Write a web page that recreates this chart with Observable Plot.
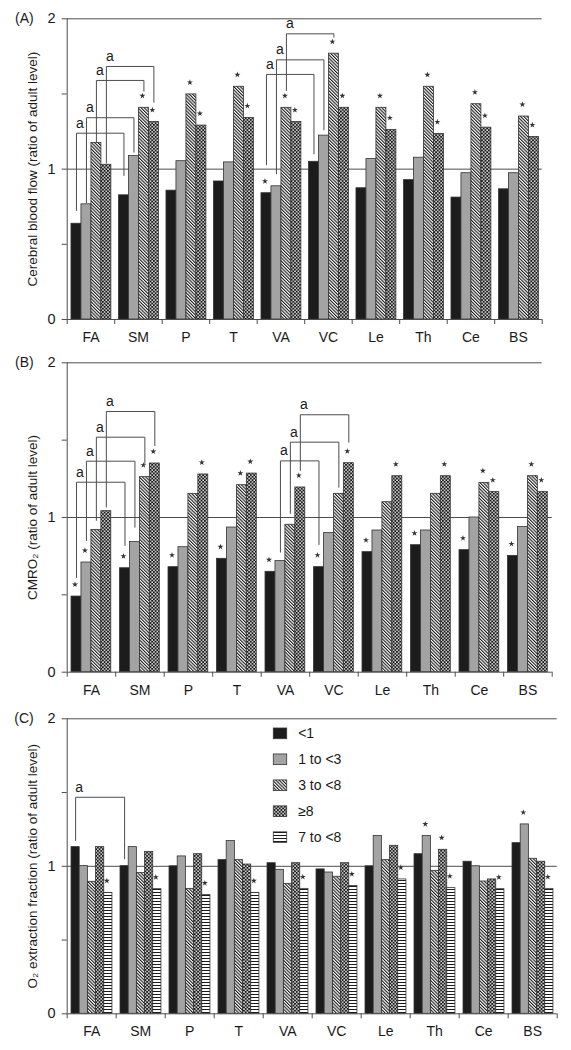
<!DOCTYPE html>
<html><head><meta charset="utf-8">
<script src="https://cdn.jsdelivr.net/npm/d3@7"></script>
<script src="https://cdn.jsdelivr.net/npm/@observablehq/plot@0.6"></script>
<style>
body{margin:0;background:#fff;font-family:"Liberation Sans",Arial,sans-serif;}
#charts svg{display:block;}
</style></head><body>
<svg width="0" height="0" style="position:absolute">
<defs>
<pattern id="hatch" patternUnits="userSpaceOnUse" width="2.3" height="2.3" patternTransform="rotate(-45)">
<rect width="2.3" height="2.3" fill="#fff"/><rect width="1.1" height="2.3" fill="#1a1a1a"/>
</pattern>
<pattern id="check" patternUnits="userSpaceOnUse" width="3.4" height="3.4">
<rect width="3.4" height="3.4" fill="#1a1a1a"/>
<rect x="0.2" y="0.2" width="1.45" height="1.45" fill="#fff"/>
<rect x="1.9" y="1.9" width="1.45" height="1.45" fill="#fff"/>
</pattern>
<pattern id="hlines" patternUnits="userSpaceOnUse" width="4" height="3">
<rect width="4" height="3" fill="#fff"/><rect y="0" width="4" height="1" fill="#1a1a1a"/>
</pattern>
</defs></svg>
<div id="charts"></div>
<script>
const regions = ["FA","SM","P","T","VA","VC","Le","Th","Ce","BS"];
const groups = ["<1","1 to <3","3 to <8","≥8","7 to <8"];
const groupFills = ["#1c1c1c","#a3a3a3","url(#hatch)","url(#check)","url(#hlines)"];

// (A) Cerebral blood flow
const cbfLt1   = [0.637,0.826,0.857,0.918,0.840,1.049,0.873,0.927,0.811,0.866];
const cbf1to3  = [0.766,1.087,1.053,1.045,0.886,1.223,1.067,1.076,0.973,0.973];
const cbf3to8  = [1.174,1.408,1.497,1.548,1.408,1.768,1.408,1.548,1.432,1.350];
const cbfGe8   = [1.029,1.314,1.290,1.341,1.314,1.408,1.261,1.234,1.276,1.214];
const cbfStars = [["VA"], [], ["SM","P","T","VA","VC","Le","Th","Ce","BS"], ["SM","P","T","VA","VC","Le","Th","Ce","BS"]];
const cbfBrackets = [
  ["FA",0,"SM",0,1.239,0.725,0.958],
  ["FA",1,"SM",1,1.342,0.775,1.113],
  ["FA",2,"SM",2,1.590,1.180,1.518],
  ["FA",3,"SM",3,1.683,1.040,1.445],
  ["VA",0,"VC",0,1.630,1.029,1.102],
  ["VA",1,"VC",1,1.727,0.969,1.261],
  ["VA",2,"VC",2,1.900,1.523,1.878]
];

// (B) CMRO2
const cmrLt1   = [0.489,0.672,0.679,0.733,0.649,0.679,0.776,0.821,0.789,0.752];
const cmr1to3  = [0.709,0.841,0.808,0.935,0.718,0.899,0.916,0.916,1.000,0.938];
const cmr3to8  = [0.920,1.261,1.153,1.209,0.953,1.153,1.099,1.153,1.224,1.267];
const cmrGe8   = [1.041,1.349,1.278,1.284,1.194,1.351,1.267,1.267,1.164,1.164];
const cmrStars = [regions.slice(), ["FA"], ["SM","T","Ce","BS"], ["SM","P","T","VA","VC","Le","Th","Ce","BS"]];
const cmrBrackets = [
  ["FA",0,"SM",0,1.228,0.612,0.819],
  ["FA",1,"SM",1,1.364,0.851,0.937],
  ["FA",2,"SM",2,1.519,0.981,1.349],
  ["FA",3,"SM",3,1.685,1.067,1.465],
  ["VA",1,"VC",0,1.366,0.776,0.825],
  ["VA",2,"VC",2,1.487,1.026,1.196],
  ["VA",3,"VC",3,1.664,1.304,1.487]
];

// (C) O2 extraction fraction
const oefLt1   = [1.130,1.001,1.000,1.042,1.021,0.979,1.000,1.082,1.031,1.157];
const oef1to3  = [1.001,1.130,1.067,1.171,0.976,0.958,1.205,1.205,1.000,1.284];
const oef3to8  = [0.895,0.954,0.847,1.042,0.881,0.929,1.042,0.969,0.897,1.051];
const oefGe8   = [1.130,1.098,1.082,1.012,1.021,1.021,1.139,1.112,0.911,1.031];
const oef7to8  = [0.820,0.845,0.805,0.820,0.847,0.866,0.911,0.852,0.845,0.847];
const oefStars = [[], ["Th","BS"], [], ["Th"], regions.slice()];
const oefBrackets = [["FA",0,"SM",0,1.468,1.175,1.051]];

const yTicks = [0,0.5,1,1.5,2];
const lineColor = "#4d4d4d";
const inkColor = "#1a1a1a";

function panel(o) {
  const xc = (r, s) => regions.indexOf(r) + o.pad + (s + 0.5) * o.bw;
  const bars = [];
  o.values.forEach((vals, s) => vals.forEach((v, i) => bars.push({
    region: regions[i], group: groups[s],
    x1: i + o.pad + s * o.bw, x2: i + o.pad + (s + 1) * o.bw, v,
    star: o.stars[s].includes(regions[i])
  })));
  const pts = [];
  const labels = [];
  o.brackets.forEach(([r1, s1, r2, s2, top, b1, b2], k) => {
    const xa = xc(r1, s1), xb = xc(r2, s2);
    pts.push({id:k, x:xa, y:b1}, {id:k, x:xa, y:top}, {id:k, x:xb, y:top}, {id:k, x:xb, y:b2});
    labels.push({x: xa, y: top});
  });
  const marks = [
    Plot.ruleY([1], {stroke: lineColor, strokeWidth: 1}),
    Plot.ruleY([2], {x1: 0, x2: o.topEnd ?? 10, stroke: lineColor, strokeWidth: 1}),
    Plot.rectY(bars, {x1: "x1", x2: "x2", y1: 0, y2: "v", fill: "group", stroke: "#333", strokeWidth: 0.8}),
    Plot.ruleY([0], {stroke: lineColor, strokeWidth: 1}),
    Plot.ruleX([0], {y1: 0, y2: 2, stroke: lineColor, strokeWidth: 1}),
    Plot.axisY({ticks: yTicks, tickSize: 5, tickPadding: 6.5, stroke: lineColor, tickFormat: d => Number.isInteger(d) ? d : "", label: null, fill: inkColor, fontSize: 14.5}),
    Plot.axisX({ticks: d3.range(11), tickSize: 5, stroke: lineColor, tickFormat: () => "", label: null}),
    Plot.axisX({ticks: d3.range(10).map(i => i + 0.5), tickSize: 0, tickPadding: o.xPad, tickFormat: d => regions[Math.floor(d)], label: null, fill: inkColor}),
    Plot.dot(bars.filter(d => d.star), {x: d => (d.x1 + d.x2) / 2, y: "v", symbol: "star", r: 1.9, fill: "#333", stroke: "none", dy: -12, dx: -1.5}),
    Plot.line(pts, {x: "x", y: "y", z: "id", stroke: lineColor, strokeWidth: 1}),
    Plot.text(labels, {x: "x", y: "y", text: () => "a", dx: 3.5, dy: -10, fontSize: 14, fill: inkColor}),
    Plot.text([o.title], {frameAnchor: "left", text: d => d, rotate: -90, textAnchor: "middle", lineAnchor: "middle", dx: -35, fontSize: 13.5, fill: inkColor}),
    Plot.text([o.letter], {frameAnchor: "top-left", text: d => d, textAnchor: "end", lineAnchor: "middle", dx: -33.5, fontSize: 14, fill: inkColor})
  ];
  if (o.legend) {
    const lg = groups.map((g, i) => ({g, y: o.legend.y0 - i * o.legend.step}));
    marks.push(
      Plot.rect(lg, {x1: o.legend.x1, x2: o.legend.x2, y1: d => d.y - o.legend.h / 2, y2: d => d.y + o.legend.h / 2, fill: "g", stroke: "#333", strokeWidth: 0.8}),
      Plot.text(lg, {x: o.legend.xt, y: "y", text: "g", textAnchor: "start", fontSize: 14, fill: inkColor})
    );
  }
  return Plot.plot({
    width: 571, height: o.height,
    marginLeft: 66.7, marginRight: o.marginRight, marginTop: o.marginTop, marginBottom: o.marginBottom,
    x: {type: "linear", domain: [0, 10], axis: null},
    y: {domain: [0, 2], axis: null},
    color: {domain: groups, range: groupFills},
    style: {fontFamily: "Liberation Sans, Arial, sans-serif", fontSize: "14px", background: "#fff", color: inkColor, overflow: "visible"},
    marks
  });
}

const root = document.getElementById("charts");
root.append(panel({
  letter: "(A)", title: "Cerebral blood flow (ratio of adult level)",
  values: [cbfLt1, cbf1to3, cbf3to8, cbfGe8], stars: cbfStars, brackets: cbfBrackets,
  height: 345, marginTop: 18.3, marginBottom: 26, marginRight: 29.3, pad: 0.09, bw: 0.21, xPad: 13
}));
root.append(panel({
  letter: "(B)", title: "CMRO₂ (ratio of adult level)",
  values: [cmrLt1, cmr1to3, cmr3to8, cmrGe8], stars: cmrStars, brackets: cmrBrackets,
  height: 352, marginTop: 17.3, marginBottom: 25.3, marginRight: 19.3, pad: 0.089, bw: 0.205, xPad: 13, topEnd: 9.794
}));
root.append(panel({
  letter: "(C)", title: "O₂ extraction fraction (ratio of adult level)",
  values: [oefLt1, oef1to3, oef3to8, oefGe8, oef7to8], stars: oefStars, brackets: oefBrackets,
  height: 353, marginTop: 21.3, marginBottom: 36.7, marginRight: 14.3, pad: 0.088, bw: 0.167, xPad: 12,
  legend: {x1: 4.216, x2: 4.49, xt: 4.714, y0: 1.898, step: 0.176, h: 0.0725}
}));
</script>
</body></html>
